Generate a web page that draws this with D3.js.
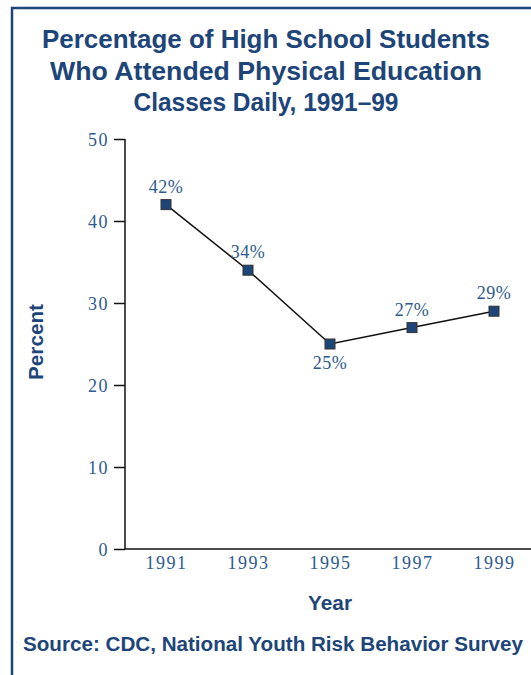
<!DOCTYPE html>
<html>
<head>
<meta charset="utf-8">
<script src="https://cdn.jsdelivr.net/npm/d3@7"></script>
<style>
  html, body { margin: 0; padding: 0; background: #fff; }
  svg { display: block; }
</style>
</head>
<body>
<svg id="chart" width="531" height="675"></svg>
<script>
// ---------- data ----------
var years = [1991, 1993, 1995, 1997, 1999];
var percents = [42, 34, 25, 27, 29];
var labelPos = ["above", "above", "below", "above", "above"];
var yTicks = [0, 10, 20, 30, 40, 50];
var titleLines = ["Percentage of High School Students", "Who Attended Physical Education", "Classes Daily, 1991\u201399"];
var titleWidths = [448, 432, 265];

var navy = "#1d4579", tickBlue = "#2d5a90";
var boldFont = "'Liberation Sans', Arial, sans-serif";
var numFont = "'Liberation Serif', 'DejaVu Serif', serif";
var svg = d3.select("#chart");

// frame
svg.append("path").attr("d", "M12,675 L12,8 L531,8").attr("fill", "none").attr("stroke", navy).attr("stroke-width", 2.5);

// title
svg.append("g").selectAll("text").data(titleLines).enter().append("text")
  .attr("x", 266).attr("y", function (d, i) { return 48 + i * 31.5; })
  .attr("text-anchor", "middle").attr("fill", navy)
  .attr("textLength", function (d, i) { return titleWidths[i]; }).attr("lengthAdjust", "spacingAndGlyphs")
  .style("font-family", boldFont).style("font-weight", "bold").style("font-size", "25px")
  .text(function (d) { return d; });

var x = d3.scalePoint().domain(years).range([166, 494]);
var y = d3.scaleLinear().domain([0, 50]).range([549, 139]);

// y axis
var yAxis = svg.append("g").attr("transform", "translate(125,0)")
  .call(d3.axisLeft(y).tickValues(yTicks).tickSize(11).tickPadding(5));
yAxis.select(".domain").attr("d", "M0," + y(50) + "V" + y(0)).attr("stroke", "#111").attr("stroke-width", 1.5);
yAxis.selectAll(".tick line").attr("stroke", "#111").attr("stroke-width", 1.5);
yAxis.selectAll(".tick text").attr("fill", tickBlue).attr("dy", "0.35em")
  .style("font-family", numFont).style("font-size", "18px").style("letter-spacing", "1.5px");

// x axis (baseline only, no ticks)
var xAxis = svg.append("g").attr("transform", "translate(0," + y(0) + ")")
  .call(d3.axisBottom(x).tickSize(0).tickPadding(6));
xAxis.select(".domain").attr("d", "M125,0H531").attr("stroke", "#111").attr("stroke-width", 1.5);
xAxis.selectAll(".tick text").attr("fill", tickBlue).attr("dy", "0.8em")
  .style("font-family", numFont).style("font-size", "18px").style("letter-spacing", "1.5px");

// axis titles
svg.append("text").attr("transform", "translate(43,342) rotate(-90)")
  .attr("text-anchor", "middle").attr("fill", navy)
  .attr("textLength", 76).attr("lengthAdjust", "spacingAndGlyphs")
  .style("font-family", boldFont).style("font-weight", "bold").style("font-size", "21px").text("Percent");
svg.append("text").attr("x", 330).attr("y", 610).attr("text-anchor", "middle").attr("fill", navy)
  .attr("textLength", 44).attr("lengthAdjust", "spacingAndGlyphs")
  .style("font-family", boldFont).style("font-weight", "bold").style("font-size", "21px").text("Year");

// source
svg.append("text").attr("x", 273).attr("y", 651).attr("text-anchor", "middle").attr("fill", navy)
  .attr("textLength", 500).attr("lengthAdjust", "spacingAndGlyphs")
  .style("font-family", boldFont).style("font-weight", "bold").style("font-size", "20px")
  .text("Source: CDC, National Youth Risk Behavior Survey");

// line + markers
var pts = years.map(function (yr, i) { return { yr: yr, v: percents[i], pos: labelPos[i] }; });
svg.append("path").datum(pts)
  .attr("d", d3.line().x(function (d) { return x(d.yr); }).y(function (d) { return y(d.v); }))
  .attr("fill", "none").attr("stroke", "#111").attr("stroke-width", 1.5);
svg.append("g").selectAll("rect").data(pts).enter().append("rect")
  .attr("x", function (d) { return x(d.yr) - 5; }).attr("y", function (d) { return y(d.v) - 5; })
  .attr("width", 10).attr("height", 10)
  .attr("fill", "#1d4577").attr("stroke", "#333").attr("stroke-width", 1);
svg.append("g").selectAll("text").data(pts).enter().append("text")
  .attr("x", function (d) { return x(d.yr); })
  .attr("y", function (d) { return d.pos === "above" ? y(d.v) - 12 : y(d.v) + 25; })
  .attr("text-anchor", "middle").attr("fill", tickBlue)
  .style("font-family", numFont).style("font-size", "18px").style("letter-spacing", "0.5px")
  .text(function (d) { return d.v + "%"; });
</script>
</body>
</html>
